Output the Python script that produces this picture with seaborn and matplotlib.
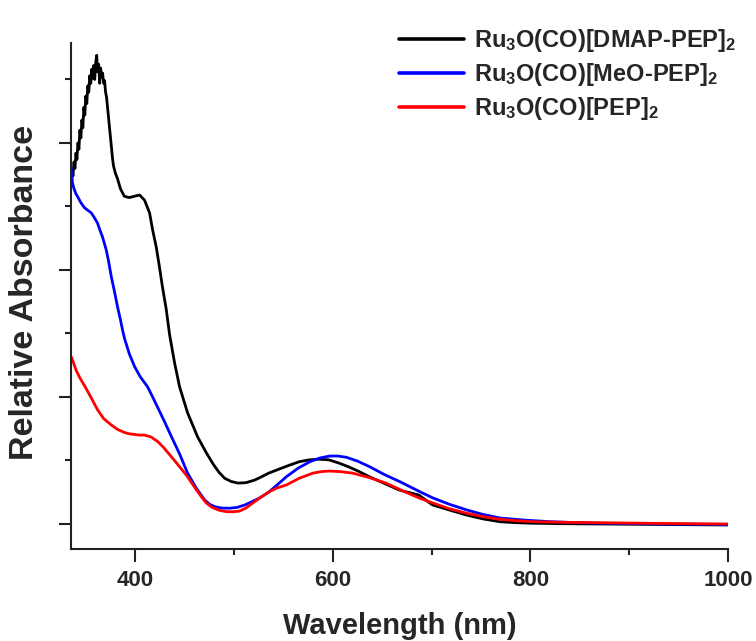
import numpy as np
import pandas as pd
import matplotlib
matplotlib.use("Agg")
import matplotlib.pyplot as plt
import seaborn as sns

# Absorption spectra (wavelength in nm, relative absorbance)
wl_dmap = [335, 336, 337, 338, 339, 340, 341, 342, 343, 344, 345, 346, 347, 348,
           349, 350, 351, 352, 353, 354, 355, 356, 357, 358, 359, 360, 361, 362,
           363, 364, 365, 366, 367, 368, 369, 370, 371, 372, 373, 374, 375, 376,
           377, 378, 380, 382, 385, 389, 394, 399, 404.4, 409.4, 414.5, 417.5,
           421.3, 424.6, 427.5, 431.4, 434.8, 439.8, 444.9, 453, 463.2, 472, 479,
           485, 490.5, 497, 503.7, 512, 521, 528, 535, 545, 555, 566, 576, 586,
           596, 606, 616, 626, 637, 652, 667, 687, 701, 718, 735, 752, 769, 785,
           802, 836, 870, 935, 1000]
abs_dmap = [2.72, 2.79, 2.74, 2.85, 2.80, 2.92, 2.87, 3.00, 2.95, 3.10, 3.04, 3.18,
            3.12, 3.28, 3.22, 3.37, 3.31, 3.45, 3.40, 3.53, 3.47, 3.58, 3.51, 3.61,
            3.50, 3.63, 3.69, 3.56, 3.62, 3.47, 3.59, 3.52, 3.55, 3.47, 3.49, 3.40,
            3.36, 3.28, 3.20, 3.12, 3.04, 2.96, 2.88, 2.82, 2.76, 2.72, 2.64, 2.58,
            2.57, 2.58, 2.59, 2.55, 2.45, 2.32, 2.18, 2.02, 1.87, 1.69, 1.49, 1.27,
            1.08, 0.875, 0.685, 0.56, 0.47, 0.405, 0.36, 0.335, 0.322, 0.325, 0.346,
            0.372, 0.40, 0.43, 0.46, 0.49, 0.505, 0.51, 0.505, 0.48, 0.45, 0.415,
            0.372, 0.32, 0.268, 0.228, 0.15, 0.11, 0.071, 0.04, 0.018, 0.01, 0.006,
            0.002, 0.0, -0.004, -0.008]

wl_meo = [335, 336.5, 338, 340, 341.5, 345, 348.6, 352, 355.4, 358, 361.8, 364,
          366.9, 370.6, 373, 375.7, 379, 382.1, 385, 387.1, 389.2, 394, 399.3,
          405, 412.5, 417, 422.6, 430, 436.5, 445, 453, 462, 470.2, 475.3, 481,
          488, 495.6, 503, 511, 518, 526, 535, 544, 553, 565, 576.7, 587, 596.9,
          605, 613.8, 625, 637.5, 652, 667.9, 688.1, 701.3, 718, 735.8, 752,
          769.2, 795, 819.9, 845, 870.5, 935, 1000]
abs_meo = [2.81, 2.685, 2.64, 2.60, 2.58, 2.53, 2.49, 2.47, 2.45, 2.42, 2.37, 2.32,
           2.26, 2.16, 2.07, 1.95, 1.83, 1.71, 1.61, 1.53, 1.46, 1.34, 1.24, 1.16,
           1.08, 1.01, 0.92, 0.80, 0.69, 0.55, 0.40, 0.28, 0.19, 0.155, 0.135,
           0.125, 0.124, 0.13, 0.15, 0.175, 0.205, 0.25, 0.31, 0.372, 0.44, 0.49,
           0.52, 0.535, 0.535, 0.525, 0.495, 0.45, 0.39, 0.333, 0.254, 0.205, 0.155,
           0.11, 0.075, 0.047, 0.03, 0.018, 0.011, 0.006, 0.0, -0.004]

wl_pep = [335, 337, 340.2, 344, 348.6, 355, 361.8, 368, 375.7, 382, 389.2, 394,
          399.3, 404, 409.4, 416, 422.6, 429, 436.5, 445, 453, 460, 466.9, 472,
          478, 485, 492.2, 499, 505.7, 512, 518.9, 527, 536, 544, 553, 566, 579.7,
          589, 596.9, 608, 620.2, 637, 654.4, 671, 688.1, 701.3, 718, 735.8, 752,
          769.2, 785, 802.7, 836, 870.5, 935, 1000]
abs_pep = [1.32, 1.28, 1.21, 1.15, 1.09, 1.00, 0.90, 0.83, 0.78, 0.745, 0.72, 0.71,
           0.705, 0.70, 0.70, 0.685, 0.65, 0.60, 0.53, 0.45, 0.372, 0.29, 0.215,
           0.165, 0.13, 0.108, 0.097, 0.096, 0.102, 0.125, 0.165, 0.21, 0.255,
           0.285, 0.307, 0.36, 0.40, 0.413, 0.417, 0.412, 0.40, 0.365, 0.32, 0.26,
           0.202, 0.165, 0.12, 0.084, 0.058, 0.037, 0.026, 0.018, 0.013, 0.01,
           0.004, 0.0]

labels = [r"Ru$_\mathbf{3}$O(CO)[DMAP-PEP]$_\mathbf{2}$",
          r"Ru$_\mathbf{3}$O(CO)[MeO-PEP]$_\mathbf{2}$",
          r"Ru$_\mathbf{3}$O(CO)[PEP]$_\mathbf{2}$"]
colors = ["#000000", "#0000ff", "#ff0000"]

sns.set_theme(style="ticks")
plt.rcParams["font.family"] = ["Liberation Sans", "DejaVu Sans"]
plt.rcParams["font.weight"] = "bold"
plt.rcParams["mathtext.fontset"] = "custom"
plt.rcParams["mathtext.rm"] = "Liberation Sans:bold"
plt.rcParams["mathtext.bf"] = "Liberation Sans:bold"
plt.rcParams["mathtext.it"] = "Liberation Sans:bold"

frames = []
for wl, ab, lab in zip([wl_dmap, wl_meo, wl_pep], [abs_dmap, abs_meo, abs_pep], labels):
    frames.append(pd.DataFrame({"Wavelength": wl, "Absorbance": ab, "Sample": lab}))
df = pd.concat(frames, ignore_index=True)

fig = plt.figure(figsize=(7.56, 6.41), dpi=100)
ax = fig.add_axes([71 / 756, 1 - 549 / 641, (728 - 71) / 756, (549 - 43) / 641])

sns.lineplot(data=df, x="Wavelength", y="Absorbance", hue="Sample",
             palette=dict(zip(labels, colors)), hue_order=labels,
             estimator=None, sort=False, linewidth=2.0, ax=ax)

ax.set_xlim(335, 1000)
ax.set_ylim(-0.197, 3.787)
ax.set_xticks([400, 600, 800, 1000])
ax.set_xticks([500, 700, 900], minor=True)
ax.set_yticks([0, 1, 2, 3])
ax.set_yticks([0.5, 1.5, 2.5, 3.5], minor=True)
ax.set_yticklabels([])

for side in ["top", "right"]:
    ax.spines[side].set_visible(False)
for side in ["left", "bottom"]:
    ax.spines[side].set_linewidth(1.5)
    ax.spines[side].set_color("#222222")

ax.tick_params(axis="both", which="major", direction="out", length=9, width=1.5,
               color="#222222", labelsize=16, pad=6)
ax.tick_params(axis="both", which="minor", direction="out", length=4.5, width=1.5,
               color="#222222")
for t in ax.get_xticklabels():
    t.set_fontweight("bold")

ax.set_xlabel("Wavelength (nm)", fontsize=21, fontweight="bold", labelpad=15)
ax.set_ylabel("Relative Absorbance", fontsize=24.5, fontweight="bold")
ax.yaxis.set_label_coords(-0.047, 0.508)

leg = ax.legend(loc="upper right", bbox_to_anchor=(736 / 756, 1 - 27 / 641),
                bbox_transform=fig.transFigure, frameon=False,
                fontsize=17, handlelength=2.75, handletextpad=0.4,
                labelspacing=0.3, borderaxespad=0.0, borderpad=0.0)
for line in leg.get_lines():
    line.set_linewidth(2.6)
for t in leg.get_texts():
    t.set_fontweight("bold")

fig.savefig("out.png", dpi=100)
